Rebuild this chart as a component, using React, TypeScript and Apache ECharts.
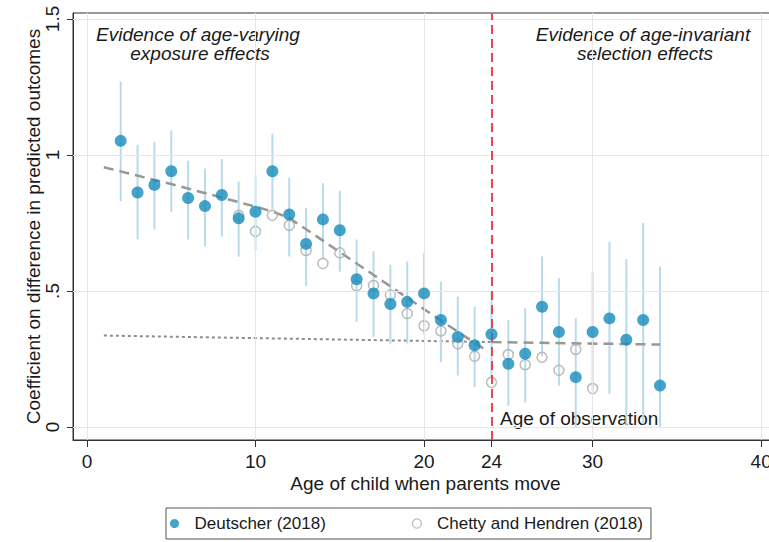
import React, { useEffect, useRef } from "react";
import * as echarts from "echarts";

// ---- data ----
const ages = [2, 3, 4, 5, 6, 7, 8, 9, 10, 11, 12, 13, 14, 15, 16, 17, 18, 19, 20, 21, 22, 23, 24, 25, 26, 27, 28, 29, 30, 31, 32, 33, 34];
const deutscher = [1.052, 0.862, 0.89, 0.94, 0.842, 0.812, 0.853, 0.767, 0.791, 0.94, 0.781, 0.673, 0.763, 0.723, 0.543, 0.491, 0.452, 0.46, 0.491, 0.393, 0.331, 0.3, 0.341, 0.232, 0.269, 0.442, 0.349, 0.183, 0.349, 0.399, 0.321, 0.393, 0.152];
const deutscherLo = [0.83, 0.69, 0.726, 0.79, 0.689, 0.664, 0.7, 0.626, 0.65, 0.8, 0.627, 0.519, 0.62, 0.571, 0.386, 0.331, 0.306, 0.307, 0.34, 0.238, 0.189, 0.146, 0.18, 0.078, 0.09, 0.26, 0.152, 0.0, 0.13, 0.121, 0.005, 0.01, 0.0];
const deutscherHi = [1.27, 1.037, 1.047, 1.09, 0.979, 0.95, 0.985, 0.902, 0.926, 1.078, 0.917, 0.806, 0.896, 0.868, 0.689, 0.646, 0.596, 0.608, 0.64, 0.535, 0.479, 0.442, 0.5, 0.393, 0.436, 0.627, 0.547, 0.4, 0.57, 0.68, 0.617, 0.75, 0.59];

const chettyAges = [9, 10, 11, 12, 13, 14, 15, 16, 17, 18, 19, 20, 21, 22, 23, 24, 25, 26, 27, 28, 29, 30];
const chetty = [0.778, 0.719, 0.778, 0.741, 0.649, 0.601, 0.64, 0.519, 0.52, 0.485, 0.417, 0.372, 0.353, 0.306, 0.26, 0.164, 0.266, 0.229, 0.256, 0.208, 0.285, 0.141];

const exposureFitAges = [1, 5, 10, 11, 12, 13, 14, 16, 18, 20, 22, 23.6];
const exposureFit = [0.955, 0.893, 0.81, 0.792, 0.768, 0.727, 0.685, 0.601, 0.517, 0.433, 0.35, 0.285];
const selectionFitAges = [24, 34];
const selectionFit = [0.312, 0.303];
const selectionExtAges = [1, 24];
const selectionExt = [0.336, 0.312];

const observationAge = 24;
const xTicks = [0, 10, 20, 24, 30, 40];
const xGrid = [0, 10, 20, 30, 40];
const yTicks = [0, 0.5, 1, 1.5];

const BLUE = "#178bbb";
const BAR = "#b8dbeb";
const HOLLOW = "#ababab";
const FONT = "'Liberation Sans', Arial, Helvetica, sans-serif";

export default function App() {
  const ref = useRef<HTMLDivElement>(null);
  useEffect(() => {
    if (!ref.current) return;
    const chart = echarts.init(ref.current, undefined, { renderer: "svg" });
    const zip = (xs: number[], ys: number[]) => xs.map((x, i) => [x, ys[i]]);
    chart.setOption({
      animation: false,
      textStyle: { fontFamily: FONT },
      grid: { left: 73, top: 13, width: 705, height: 427, show: true, borderColor: "#333", borderWidth: 1, containLabel: false },
      xAxis: {
        type: "value",
        min: -0.83,
        max: 41,
        name: "Age of child when parents move",
        nameLocation: "middle",
        nameGap: 34,
        nameMoveOverlap: false,
        nameTextStyle: { fontSize: 19, color: "#1a1a1a", fontFamily: FONT },
        axisLine: { show: true, onZero: false, lineStyle: { color: "#333", width: 1 } },
        axisTick: { show: true, length: 7, customValues: xTicks, lineStyle: { color: "#333" } },
        axisLabel: { customValues: xTicks, fontSize: 19, color: "#1a1a1a", margin: 12, fontFamily: FONT },
        splitLine: { show: false },
      },
      yAxis: {
        type: "value",
        min: -0.048,
        max: 1.522,
        name: "Coefficient on difference in predicted outcomes",
        nameLocation: "middle",
        nameGap: 30,
        nameMoveOverlap: false,
        nameTextStyle: { fontSize: 19, color: "#1a1a1a", fontFamily: FONT },
        axisLine: { show: true, onZero: false, lineStyle: { color: "#333", width: 1 } },
        axisTick: { show: true, length: 6, customValues: yTicks, lineStyle: { color: "#333" } },
        axisLabel: {
          customValues: yTicks,
          rotate: 90,
          fontSize: 19,
          color: "#1a1a1a",
          margin: 11,
          fontFamily: FONT,
          formatter: (v: number) => String(v).replace(/^0\./, "."),
        },
        splitLine: { show: false },
      },
      legend: {
        data: [
          { name: "Deutscher (2018)", itemStyle: { color: BLUE, borderWidth: 0 } },
          { name: "Chetty and Hendren (2018)", itemStyle: { color: "rgba(255,255,255,0)", borderColor: HOLLOW, borderWidth: 1.2 } },
        ],
        left: 166,
        top: 508,
        orient: "horizontal",
        padding: [7, 8, 7, 4],
        borderColor: "#555",
        borderWidth: 1,
        itemWidth: 30,
        itemHeight: 9,
        itemGap: 86,
        textStyle: { fontSize: 17, color: "#1a1a1a", fontFamily: FONT },
        selectedMode: false,
      },
      graphic: [
        { type: "text", style: { text: "Evidence of age-varying", x: 198, y: 34, textAlign: "center", textVerticalAlign: "middle", fontSize: 19, fontStyle: "italic", fontFamily: FONT, fill: "#1a1a1a" } },
        { type: "text", style: { text: "exposure effects", x: 200, y: 53, textAlign: "center", textVerticalAlign: "middle", fontSize: 19, fontStyle: "italic", fontFamily: FONT, fill: "#1a1a1a" } },
        { type: "text", style: { text: "Evidence of age-invariant", x: 643, y: 34, textAlign: "center", textVerticalAlign: "middle", fontSize: 19, fontStyle: "italic", fontFamily: FONT, fill: "#1a1a1a" } },
        { type: "text", style: { text: "selection effects", x: 645, y: 53, textAlign: "center", textVerticalAlign: "middle", fontSize: 19, fontStyle: "italic", fontFamily: FONT, fill: "#1a1a1a" } },
        { type: "text", style: { text: "Age of observation", x: 500, y: 418, textAlign: "left", textVerticalAlign: "middle", fontSize: 19, fontFamily: FONT, fill: "#1a1a1a" } },
      ],
      series: [
        {
          name: "selection extension",
          type: "line",
          z: 1,
          silent: true,
          showSymbol: false,
          data: zip(selectionExtAges, selectionExt),
          lineStyle: { color: "#8c8c8c", width: 2, type: [3, 3] },
          markLine: {
            silent: true,
            symbol: ["none", "none"],
            label: { show: false },
            lineStyle: { color: "#e6e6e6", width: 1, type: "solid" },
            data: [...xGrid.map((v) => ({ xAxis: v })), ...yTicks.map((v) => ({ yAxis: v }))],
          },
        },
        {
          name: "errors",
          type: "custom",
          z: 2,
          silent: true,
          data: ages.map((a, i) => [a, deutscherLo[i], deutscherHi[i]]),
          encode: { x: 0, y: [1, 2] },
          renderItem: (_p: any, api: any) => {
            const x = api.value(0);
            const a = api.coord([x, api.value(1)]);
            const b = api.coord([x, api.value(2)]);
            return { type: "line", shape: { x1: a[0], y1: a[1], x2: b[0], y2: b[1] }, style: { stroke: BAR, lineWidth: 2 } };
          },
        },
        {
          name: "exposure fit",
          type: "line",
          z: 3,
          silent: true,
          showSymbol: false,
          data: zip(exposureFitAges, exposureFit),
          lineStyle: { color: "#9a9692", width: 2.5, type: [10, 6] },
          markLine: {
            silent: true,
            symbol: ["none", "none"],
            label: { show: false },
            lineStyle: { color: "#e8474d", width: 2, type: [9, 5] },
            data: [{ xAxis: observationAge }],
          },
        },
        {
          name: "selection fit",
          type: "line",
          z: 3,
          silent: true,
          showSymbol: false,
          data: zip(selectionFitAges, selectionFit),
          lineStyle: { color: "#9a9692", width: 2.5, type: [10, 6] },
        },
        {
          name: "Chetty and Hendren (2018)",
          type: "scatter",
          z: 4,
          symbol: "circle",
          symbolSize: 10,
          data: zip(chettyAges, chetty),
          itemStyle: { color: "rgba(255,255,255,0)", borderColor: HOLLOW, borderWidth: 1.5 },
        },
        {
          name: "Deutscher (2018)",
          type: "scatter",
          z: 5,
          symbol: "circle",
          symbolSize: 12,
          data: zip(ages, deutscher),
          itemStyle: { color: BLUE },
        },
      ],
    });
    return () => chart.dispose();
  }, []);
  return (
    <div style={{ position: "fixed", left: 0, top: 0, width: 769, height: 542, overflow: "hidden", background: "#fff" }}>
      <div ref={ref} style={{ width: 790, height: 542 }} />
    </div>
  );
}
